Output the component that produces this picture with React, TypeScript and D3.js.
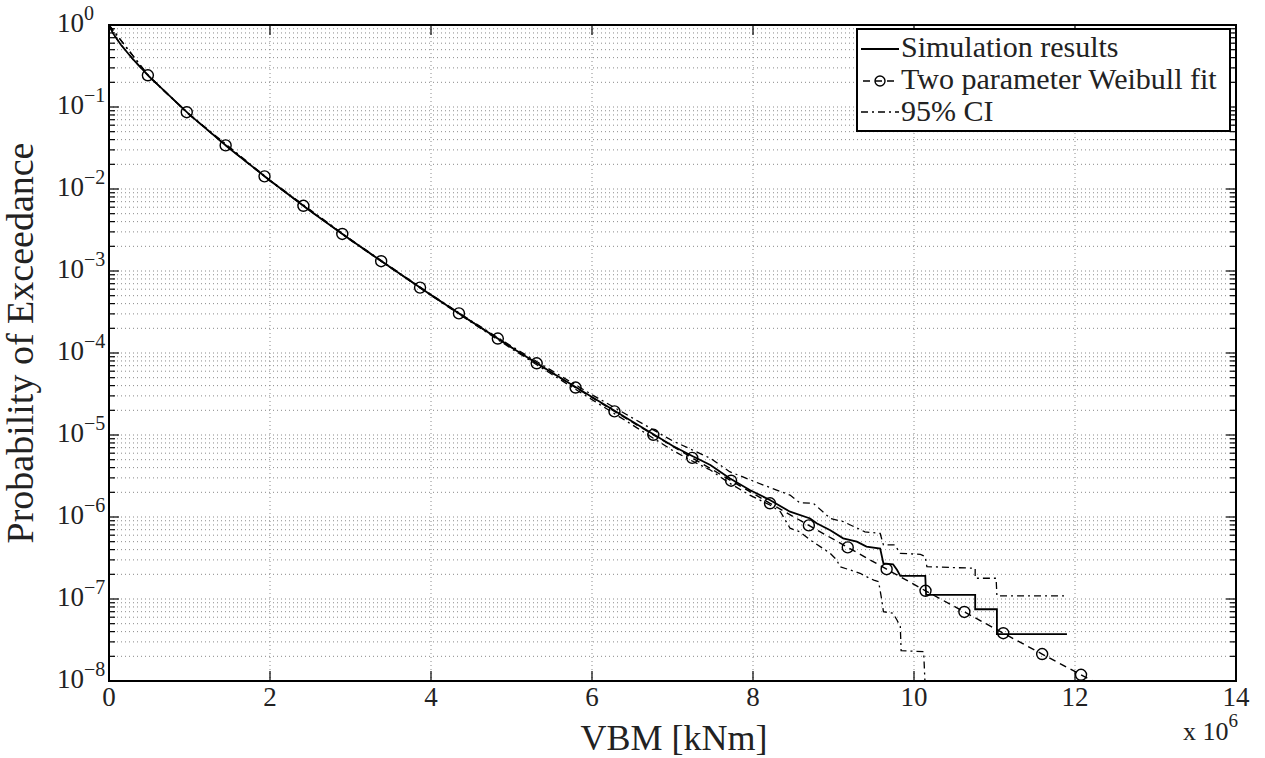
import React from "react";
import * as d3 from "d3";

// ---- data (VBM in units of 1e6 kNm, probability of exceedance) ----
const simX = [0, 0.05, 0.15, 0.3, 0.5, 1.0, 1.5, 2.0, 2.5, 3.0, 3.5, 4.0, 4.5, 5.0, 5.5, 6.0, 6.5, 7.0, 7.22, 7.47, 7.71, 7.96, 8.21, 8.46, 8.71, 8.79, 8.96, 9.12, 9.29, 9.41, 9.58, 9.62, 9.74, 9.79, 9.83, 10.14, 10.15, 10.76, 10.76, 11.03, 11.03, 11.9];
const simP = [1, 0.79, 0.57, 0.38, 0.234, 0.0806, 0.031, 0.0127, 0.0054, 0.0024, 0.0011, 5.1e-4, 2.42e-4, 1.17e-4, 5.8e-5, 2.9e-5, 1.46e-5, 7.4e-6, 5.7e-6, 4.3e-6, 2.96e-6, 2.13e-6, 1.61e-6, 1.16e-6, 9.6e-7, 8.4e-7, 6.9e-7, 5.5e-7, 5.0e-7, 4.35e-7, 4.13e-7, 2.72e-7, 2.65e-7, 2.26e-7, 1.91e-7, 1.91e-7, 1.12e-7, 1.12e-7, 7.5e-8, 7.5e-8, 3.74e-8, 3.74e-8];

const fitLineX = [0, 0.05, 0.15, 0.3, 0.483, 0.966, 1.449, 1.932, 2.415, 2.898, 3.381, 3.864, 4.347, 4.83, 5.313, 5.796, 6.279, 6.762, 7.245, 7.728, 8.211, 8.694, 9.177, 9.66, 10.143, 10.626, 11.109, 11.592, 12.075, 12.22];
const fitLineP = [1, 0.792, 0.573, 0.38, 0.2437, 0.0864, 0.034, 0.01426, 0.00624, 0.00283, 0.001316, 6.27e-4, 3.04e-4, 1.5e-4, 7.49e-5, 3.79e-5, 1.94e-5, 1.005e-5, 5.26e-6, 2.77e-6, 1.47e-6, 7.9e-7, 4.26e-7, 2.31e-7, 1.26e-7, 6.95e-8, 3.83e-8, 2.13e-8, 1.19e-8, 1.0e-8];

const markerX = [0.483, 0.966, 1.449, 1.932, 2.415, 2.898, 3.381, 3.864, 4.347, 4.83, 5.313, 5.796, 6.279, 6.762, 7.245, 7.728, 8.211, 8.694, 9.177, 9.66, 10.143, 10.626, 11.109, 11.592, 12.075];
const markerP = [0.2437, 0.0864, 0.034, 0.01426, 0.00624, 0.00283, 0.001316, 6.27e-4, 3.04e-4, 1.5e-4, 7.49e-5, 3.79e-5, 1.94e-5, 1.005e-5, 5.26e-6, 2.77e-6, 1.47e-6, 7.9e-7, 4.26e-7, 2.31e-7, 1.26e-7, 6.95e-8, 3.83e-8, 2.13e-8, 1.19e-8];

const ciUpX = [0, 0.5, 1, 2, 3, 4, 4.5, 5.0, 5.5, 6.0, 6.5, 7.0, 7.47, 7.71, 8.13, 8.46, 8.58, 8.75, 8.96, 9.12, 9.39, 9.58, 9.62, 9.76, 9.83, 10.08, 10.14, 10.16, 10.76, 10.76, 11.02, 11.03, 11.9];
const ciUpP = [1, 0.236, 0.0812, 0.0128, 0.00243, 5.17e-4, 2.47e-4, 1.21e-4, 6.1e-5, 3.1e-5, 1.62e-5, 8.5e-6, 5.2e-6, 3.57e-6, 2.45e-6, 1.85e-6, 1.49e-6, 1.47e-6, 9.6e-7, 8.8e-7, 6.6e-7, 6.3e-7, 4.56e-7, 4.56e-7, 3.6e-7, 3.5e-7, 3.3e-7, 2.48e-7, 2.37e-7, 1.79e-7, 1.79e-7, 1.09e-7, 1.09e-7];

const ciLoX = [0, 0.5, 1, 2, 3, 4, 4.5, 5.0, 5.5, 6.0, 6.5, 7.0, 7.22, 7.47, 7.71, 7.96, 8.21, 8.34, 8.46, 8.58, 8.71, 8.96, 9.04, 9.08, 9.33, 9.41, 9.5, 9.56, 9.6, 9.62, 9.74, 9.79, 9.83, 9.84, 10.12, 10.14];
const ciLoP = [1, 0.232, 0.08, 0.0125, 0.00237, 5.03e-4, 2.37e-4, 1.13e-4, 5.5e-5, 2.7e-5, 1.33e-5, 6.5e-6, 4.96e-6, 3.74e-6, 2.58e-6, 1.85e-6, 1.4e-6, 1.16e-6, 7.3e-7, 6.6e-7, 5.25e-7, 3.6e-7, 3.0e-7, 2.48e-7, 2.06e-7, 1.87e-7, 1.7e-7, 1.63e-7, 9.7e-8, 7.0e-8, 6.7e-8, 5.5e-8, 4.6e-8, 2.34e-8, 2.28e-8, 8e-9];

const xTicks = [0, 2, 4, 6, 8, 10, 12, 14];
const yExponents = [0, -1, -2, -3, -4, -5, -6, -7, -8];
const legendLabels = ["Simulation results", "Two parameter Weibull fit", "95% CI"];
const xLabel = "VBM [kNm]";
const yLabel = "Probability of Exceedance";

const W = 1265, H = 758;
const L = 109, R = 1236, T = 25, B = 681;
const FONT = "'Liberation Serif', 'Times New Roman', serif";

export default function App() {
  const x = d3.scaleLinear().domain([0, 14]).range([L, R]);
  const y = d3.scaleLog().domain([1e-8, 1]).range([B, T]);
  const line = d3.line<[number, number]>().x(d => x(d[0])).y(d => y(d[1]));
  const zip = (a: number[], b: number[]) => a.map((v, i) => [v, b[i]] as [number, number]);

  const minorVals: number[] = [];
  for (let e = -8; e < 0; e++) for (let m = 2; m <= 9; m++) minorVals.push(m * Math.pow(10, e));

  const gridStyle = { stroke: "#8a8a8a", strokeWidth: 1, strokeDasharray: "1,3", fill: "none" };

  return (
    <svg width={W} height={H} style={{ position: "absolute", left: 0, top: 0, background: "#fff" }} fontFamily={FONT}>
      <rect x={0} y={0} width={W} height={H} fill="#fff" />
      <defs>
        <clipPath id="plot"><rect x={L} y={T} width={R - L} height={B - T} /></clipPath>
      </defs>
      {/* grid */}
      <g>
        {xTicks.filter(t => t > 0 && t < 14).map(t => (
          <line key={"gx" + t} x1={x(t)} x2={x(t)} y1={T} y2={B} {...gridStyle} />
        ))}
        {yExponents.filter(e => e < 0 && e > -8).map(e => (
          <line key={"gy" + e} x1={L} x2={R} y1={y(Math.pow(10, e))} y2={y(Math.pow(10, e))} {...gridStyle} />
        ))}
        {minorVals.map((v, i) => (
          <line key={"gm" + i} x1={L} x2={R} y1={y(v)} y2={y(v)} {...gridStyle} />
        ))}
      </g>
      {/* data */}
      <g clipPath="url(#plot)" fill="none" stroke="#000">
        <path d={line(zip(ciUpX, ciUpP)) || ""} strokeWidth={1.3} strokeDasharray="7,4,2,4" />
        <path d={line(zip(ciLoX, ciLoP)) || ""} strokeWidth={1.3} strokeDasharray="7,4,2,4" />
        <path d={line(zip(fitLineX, fitLineP)) || ""} strokeWidth={1.4} strokeDasharray="7,5" />
        {markerX.map((mx, i) => (
          <circle key={"m" + i} cx={x(mx)} cy={y(markerP[i])} r={5.5} strokeWidth={1.4} />
        ))}
        <path d={line(zip(simX, simP)) || ""} strokeWidth={1.8} />
      </g>
      {/* axes box and ticks */}
      <g stroke="#000" fill="none">
        {xTicks.map(t => (
          <g key={"xt" + t}>
            <line x1={x(t)} x2={x(t)} y1={B} y2={B - 10} strokeWidth={1.2} />
            <line x1={x(t)} x2={x(t)} y1={T} y2={T + 10} strokeWidth={1.2} />
          </g>
        ))}
        {yExponents.map(e => (
          <g key={"yt" + e}>
            <line x1={L} x2={L + 10} y1={y(Math.pow(10, e))} y2={y(Math.pow(10, e))} strokeWidth={1.2} />
            <line x1={R} x2={R - 10} y1={y(Math.pow(10, e))} y2={y(Math.pow(10, e))} strokeWidth={1.2} />
          </g>
        ))}
        {minorVals.map((v, i) => (
          <g key={"ym" + i}>
            <line x1={L} x2={L + 6} y1={y(v)} y2={y(v)} strokeWidth={1.2} />
            <line x1={R} x2={R - 6} y1={y(v)} y2={y(v)} strokeWidth={1.2} />
          </g>
        ))}
        <rect x={L} y={T} width={R - L} height={B - T} strokeWidth={2} />
      </g>
      {/* tick labels */}
      <g fill="#222">
        {xTicks.map(t => (
          <text key={"xl" + t} x={x(t)} y={706} fontSize={27} textAnchor="middle">{t}</text>
        ))}
        {yExponents.map(e => (
          <text key={"yl" + e} x={57} y={y(Math.pow(10, e)) + 6.5} fontSize={27}>
            10
            <tspan fontSize={20} dy={-12}>{e === 0 ? "0" : "\u2212" + Math.abs(e)}</tspan>
          </text>
        ))}
        <text x={1183} y={740} fontSize={26}>
          x 10
          <tspan fontSize={19} dy={-13}>6</tspan>
        </text>
      </g>
      {/* axis labels */}
      <text x={674} y={750} fontSize={36} textAnchor="middle" fill="#222">{xLabel}</text>
      <text transform={`translate(33,343) rotate(-90)`} fontSize={38} textAnchor="middle" fill="#222">{yLabel}</text>
      {/* legend */}
      <g>
        <rect x={857} y={29} width={373} height={102} fill="#fff" stroke="#000" strokeWidth={2} />
        <line x1={861} x2={899} y1={49} y2={49} stroke="#000" strokeWidth={1.8} />
        <line x1={861} x2={899} y1={81} y2={81} stroke="#000" strokeWidth={1.4} strokeDasharray="7,5" strokeDashoffset={-2} />
        <circle cx={880} cy={81} r={5} fill="none" stroke="#000" strokeWidth={1.4} />
        <line x1={861} x2={899} y1={112} y2={112} stroke="#000" strokeWidth={1.3} strokeDasharray="7,4,2,4" />
        {legendLabels.map((s, i) => (
          <text key={"lg" + i} x={901} y={57 + i * 32} fontSize={30} fill="#222">{s}</text>
        ))}
      </g>
    </svg>
  );
}
